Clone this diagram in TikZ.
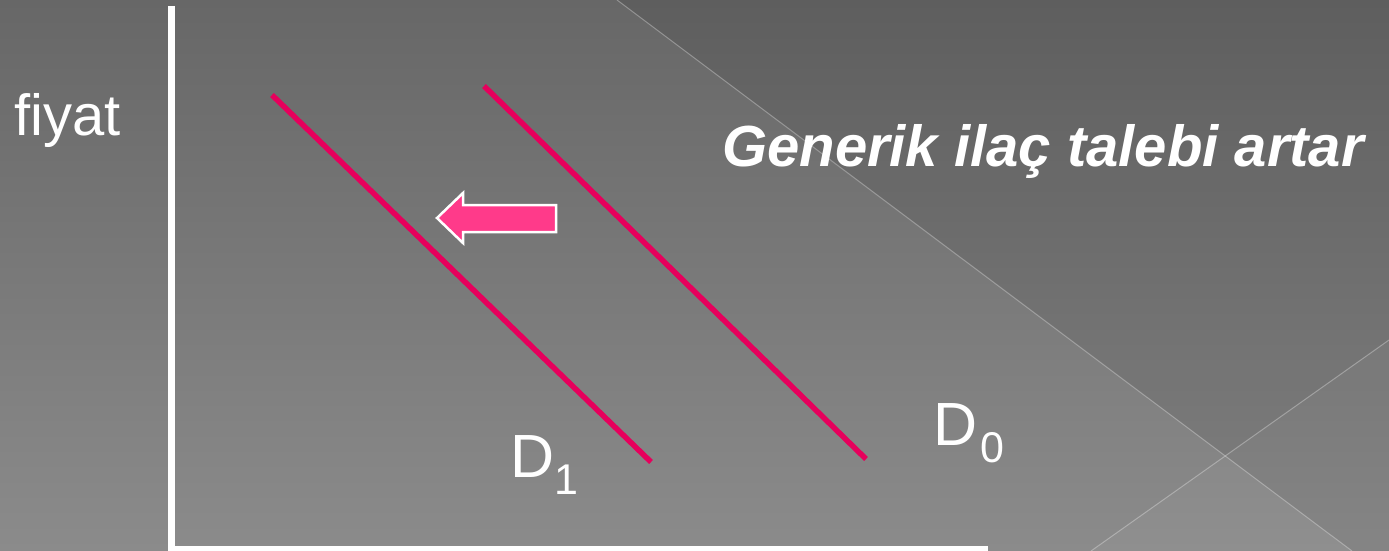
\documentclass[tikz,border=0pt]{standalone}
\usepackage{fontspec}
\setmainfont{Liberation Sans}
\definecolor{bgtop}{RGB}{103,103,103}
\definecolor{bgbot}{RGB}{139,139,139}
\definecolor{demandred}{RGB}{230,0,92}
\definecolor{arrowpink}{RGB}{255,58,138}
\newcommand{\bigsz}{\fontsize{58}{68}\selectfont}
\newcommand{\dsz}{\fontsize{61}{72}\selectfont}
\newcommand{\subsz}{\fontsize{43}{50}\selectfont}
\begin{document}
\begin{tikzpicture}[x=1pt,y=-1pt,
  axis/.style={draw=white,line width=6.5pt,line join=miter},
  demand/.style={draw=demandred,line width=5.5pt},
  lbl/.style={text=white,inner sep=0pt,anchor=base west,font=\bigsz},
  dlbl/.style={lbl,font=\dsz},
  bgline/.style={draw=white,draw opacity=0.3,line width=1pt},
  shiftarrow/.style={draw=white,line width=2.5pt,fill=arrowpink,line join=miter}]
\useasboundingbox (0,0) rectangle (1389,551);
% background
\shade[top color=bgtop,bottom color=bgbot] (0,0) rectangle (1389,551);
\fill[black,fill opacity=0.08] (617,0) -- (1389,0) -- (1389,551) -- (1352,551) -- cycle;
\fill[white,fill opacity=0.04] (1389,340) -- (1389,551) -- (1091,551) -- cycle;
\coordinate (b1s) at (617,0);
\coordinate (b1e) at (1352,551);
\coordinate (b2s) at (1389,340);
\coordinate (b2e) at (1091,551);
\draw[bgline] (b1s) -- (b1e);
\draw[bgline] (b2s) -- (b2e);
% axes
\coordinate (ytop) at (171.5,6);
\coordinate (origin) at (171.5,549.5);
\coordinate (xend) at (988,549.5);
\draw[axis] (ytop) -- (origin) -- (xend);
% demand curves
\coordinate (d1s) at (272,95);
\coordinate (d1e) at (651,462);
\coordinate (d0s) at (484,86);
\coordinate (d0e) at (866,459);
\draw[demand] (d1s) -- (d1e);
\draw[demand] (d0s) -- (d0e);
% shift arrow
\draw[shiftarrow] (437,218) -- (463,193) -- (463,205) -- (556,205) -- (556,232) -- (463,232) -- (463,243) -- cycle;
% labels
\node[lbl] (price) at (14,135) {fiyat};
\node[lbl,font=\bigsz\bfseries\itshape] (title) at (722,166) {Generik ilaç talebi artar};
\node[dlbl] (d1) at (510,477) {D\raisebox{-17pt}{\subsz 1}};
\node[dlbl] (d0) at (933,445) {D\kern3pt\raisebox{-17pt}{\subsz 0}};
\end{tikzpicture}
\end{document}
